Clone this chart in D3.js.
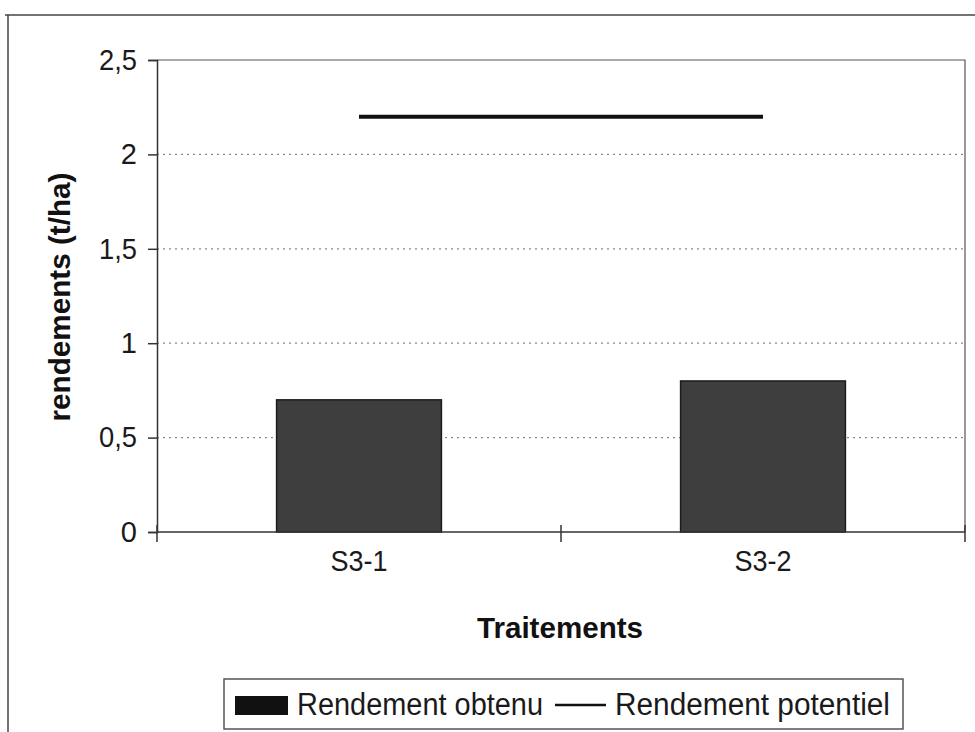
<!DOCTYPE html>
<html>
<head>
<meta charset="utf-8">
<script src="https://cdn.jsdelivr.net/npm/d3@7"></script>
<style>
  html, body { margin: 0; padding: 0; background: #fff; }
  svg { display: block; font-family: "Liberation Sans", Arial, sans-serif; }
</style>
</head>
<body>
<svg id="chart" width="975" height="732"></svg>
<script>
// Yield per treatment (t/ha)
const categories = ["S3-1", "S3-2"];
const obtainedYield = [0.7, 0.8];
const potentialYield = [2.2, 2.2];
const yTicks = [0, 0.5, 1, 1.5, 2, 2.5];
const yTickLabels = ["0", "0,5", "1", "1,5", "2", "2,5"];
const seriesNames = ["Rendement obtenu", "Rendement potentiel"];
const xTitle = "Traitements";
const yTitle = "rendements (t/ha)";

const svg = d3.select("#chart");
const plot = { left: 157, right: 965, top: 60, bottom: 532 };

const x = d3.scaleBand().domain(categories).range([plot.left, plot.right]).padding(0);
const y = d3.scaleLinear().domain([0, 2.5]).range([plot.bottom, plot.top]);
const barWidth = x.bandwidth() * 0.408;
const cx = c => x(c) + x.bandwidth() / 2;

// outer frame of the chart area
svg.append("line").attr("x1", 5).attr("x2", 975).attr("y1", 15).attr("y2", 15)
  .attr("stroke", "#444").attr("stroke-width", 1.5);
svg.append("line").attr("x1", 8).attr("x2", 8).attr("y1", 15).attr("y2", 732)
  .attr("stroke", "#444").attr("stroke-width", 1.5);

// dotted horizontal gridlines
svg.append("g").selectAll("line")
  .data(yTicks.filter(v => v > 0 && v < 2.5))
  .join("line")
  .attr("x1", plot.left).attr("x2", plot.right)
  .attr("y1", d => y(d)).attr("y2", d => y(d))
  .attr("stroke", "#8a8a8a").attr("stroke-width", 1.2)
  .attr("stroke-dasharray", "2,4");

// plot border (top and right)
svg.append("path")
  .attr("d", `M${plot.left},${y(2.5)}H${plot.right}V${plot.bottom}`)
  .attr("fill", "none").attr("stroke", "#555").attr("stroke-width", 1.2);

// bars: obtained yield
svg.append("g").selectAll("rect")
  .data(categories.map((c, i) => ({ c, v: obtainedYield[i] })))
  .join("rect")
  .attr("x", d => cx(d.c) - barWidth / 2)
  .attr("width", barWidth)
  .attr("y", d => y(d.v))
  .attr("height", d => y(0) - y(d.v))
  .attr("fill", "#3e3e3e")
  .attr("stroke", "#1c1c1c").attr("stroke-width", 1.5);

// line: potential yield
const line = d3.line().x(d => cx(d.c)).y(d => y(d.v));
svg.append("path")
  .datum(categories.map((c, i) => ({ c, v: potentialYield[i] })))
  .attr("d", line)
  .attr("fill", "none").attr("stroke", "#111").attr("stroke-width", 4);

// y axis
const yAxis = d3.axisLeft(y).tickValues(yTicks)
  .tickFormat((d, i) => yTickLabels[i]).tickSize(9).tickPadding(11);
const gy = svg.append("g").attr("transform", `translate(${plot.left},0)`).call(yAxis);
gy.attr("font-size", null).attr("font-family", null);
gy.select(".domain").attr("stroke", "#333").attr("stroke-width", 1.5);
gy.selectAll(".tick line").attr("stroke", "#333").attr("stroke-width", 1.5);
gy.selectAll(".tick text")
  .style("font-size", "29px").attr("fill", "#1a1a1a")
  .attr("textLength", (d, i) => yTickLabels[i].length > 1 ? 38 : null)
  .attr("lengthAdjust", "spacingAndGlyphs");

// x axis: boundary tick marks crossing the axis, labels at category centres
const gx = svg.append("g");
gx.append("line").attr("x1", plot.left).attr("x2", plot.right)
  .attr("y1", plot.bottom).attr("y2", plot.bottom)
  .attr("stroke", "#333").attr("stroke-width", 1.5);
const boundaries = [x(categories[0]), x(categories[1]), x(categories[1]) + x.bandwidth()];
gx.selectAll(".xtick").data(boundaries).join("line")
  .attr("x1", d => d).attr("x2", d => d)
  .attr("y1", plot.bottom - 7).attr("y2", plot.bottom + 10)
  .attr("stroke", "#333").attr("stroke-width", 1.5);
gx.selectAll("text").data(categories).join("text")
  .attr("x", d => cx(d)).attr("y", 571)
  .attr("text-anchor", "middle").style("font-size", "29px").attr("fill", "#1a1a1a")
  .attr("textLength", 57).attr("lengthAdjust", "spacingAndGlyphs")
  .text(d => d);

// axis titles
svg.append("text").attr("x", 560).attr("y", 638)
  .attr("text-anchor", "middle").style("font-size", "29px").attr("font-weight", "bold")
  .attr("fill", "#111").attr("textLength", 166).attr("lengthAdjust", "spacingAndGlyphs")
  .text(xTitle);
svg.append("text")
  .attr("transform", "translate(70,297) rotate(-90)")
  .attr("text-anchor", "middle").style("font-size", "30px").attr("font-weight", "bold")
  .attr("fill", "#111").attr("textLength", 249).attr("lengthAdjust", "spacingAndGlyphs")
  .text(yTitle);

// legend
const lg = svg.append("g");
lg.append("rect").attr("x", 224).attr("y", 679).attr("width", 679).attr("height", 50)
  .attr("fill", "#fff").attr("stroke", "#555").attr("stroke-width", 1.5);
lg.append("rect").attr("x", 235).attr("y", 696).attr("width", 53).attr("height", 19)
  .attr("fill", "#111");
lg.append("text").attr("x", 297).attr("y", 715).style("font-size", "31px").attr("fill", "#1a1a1a")
  .attr("textLength", 246).attr("lengthAdjust", "spacingAndGlyphs")
  .text(seriesNames[0]);
lg.append("line").attr("x1", 555).attr("x2", 606).attr("y1", 705).attr("y2", 705)
  .attr("stroke", "#111").attr("stroke-width", 2.5);
lg.append("text").attr("x", 615).attr("y", 715).style("font-size", "31px").attr("fill", "#1a1a1a")
  .attr("textLength", 275).attr("lengthAdjust", "spacingAndGlyphs")
  .text(seriesNames[1]);
</script>
</body>
</html>
